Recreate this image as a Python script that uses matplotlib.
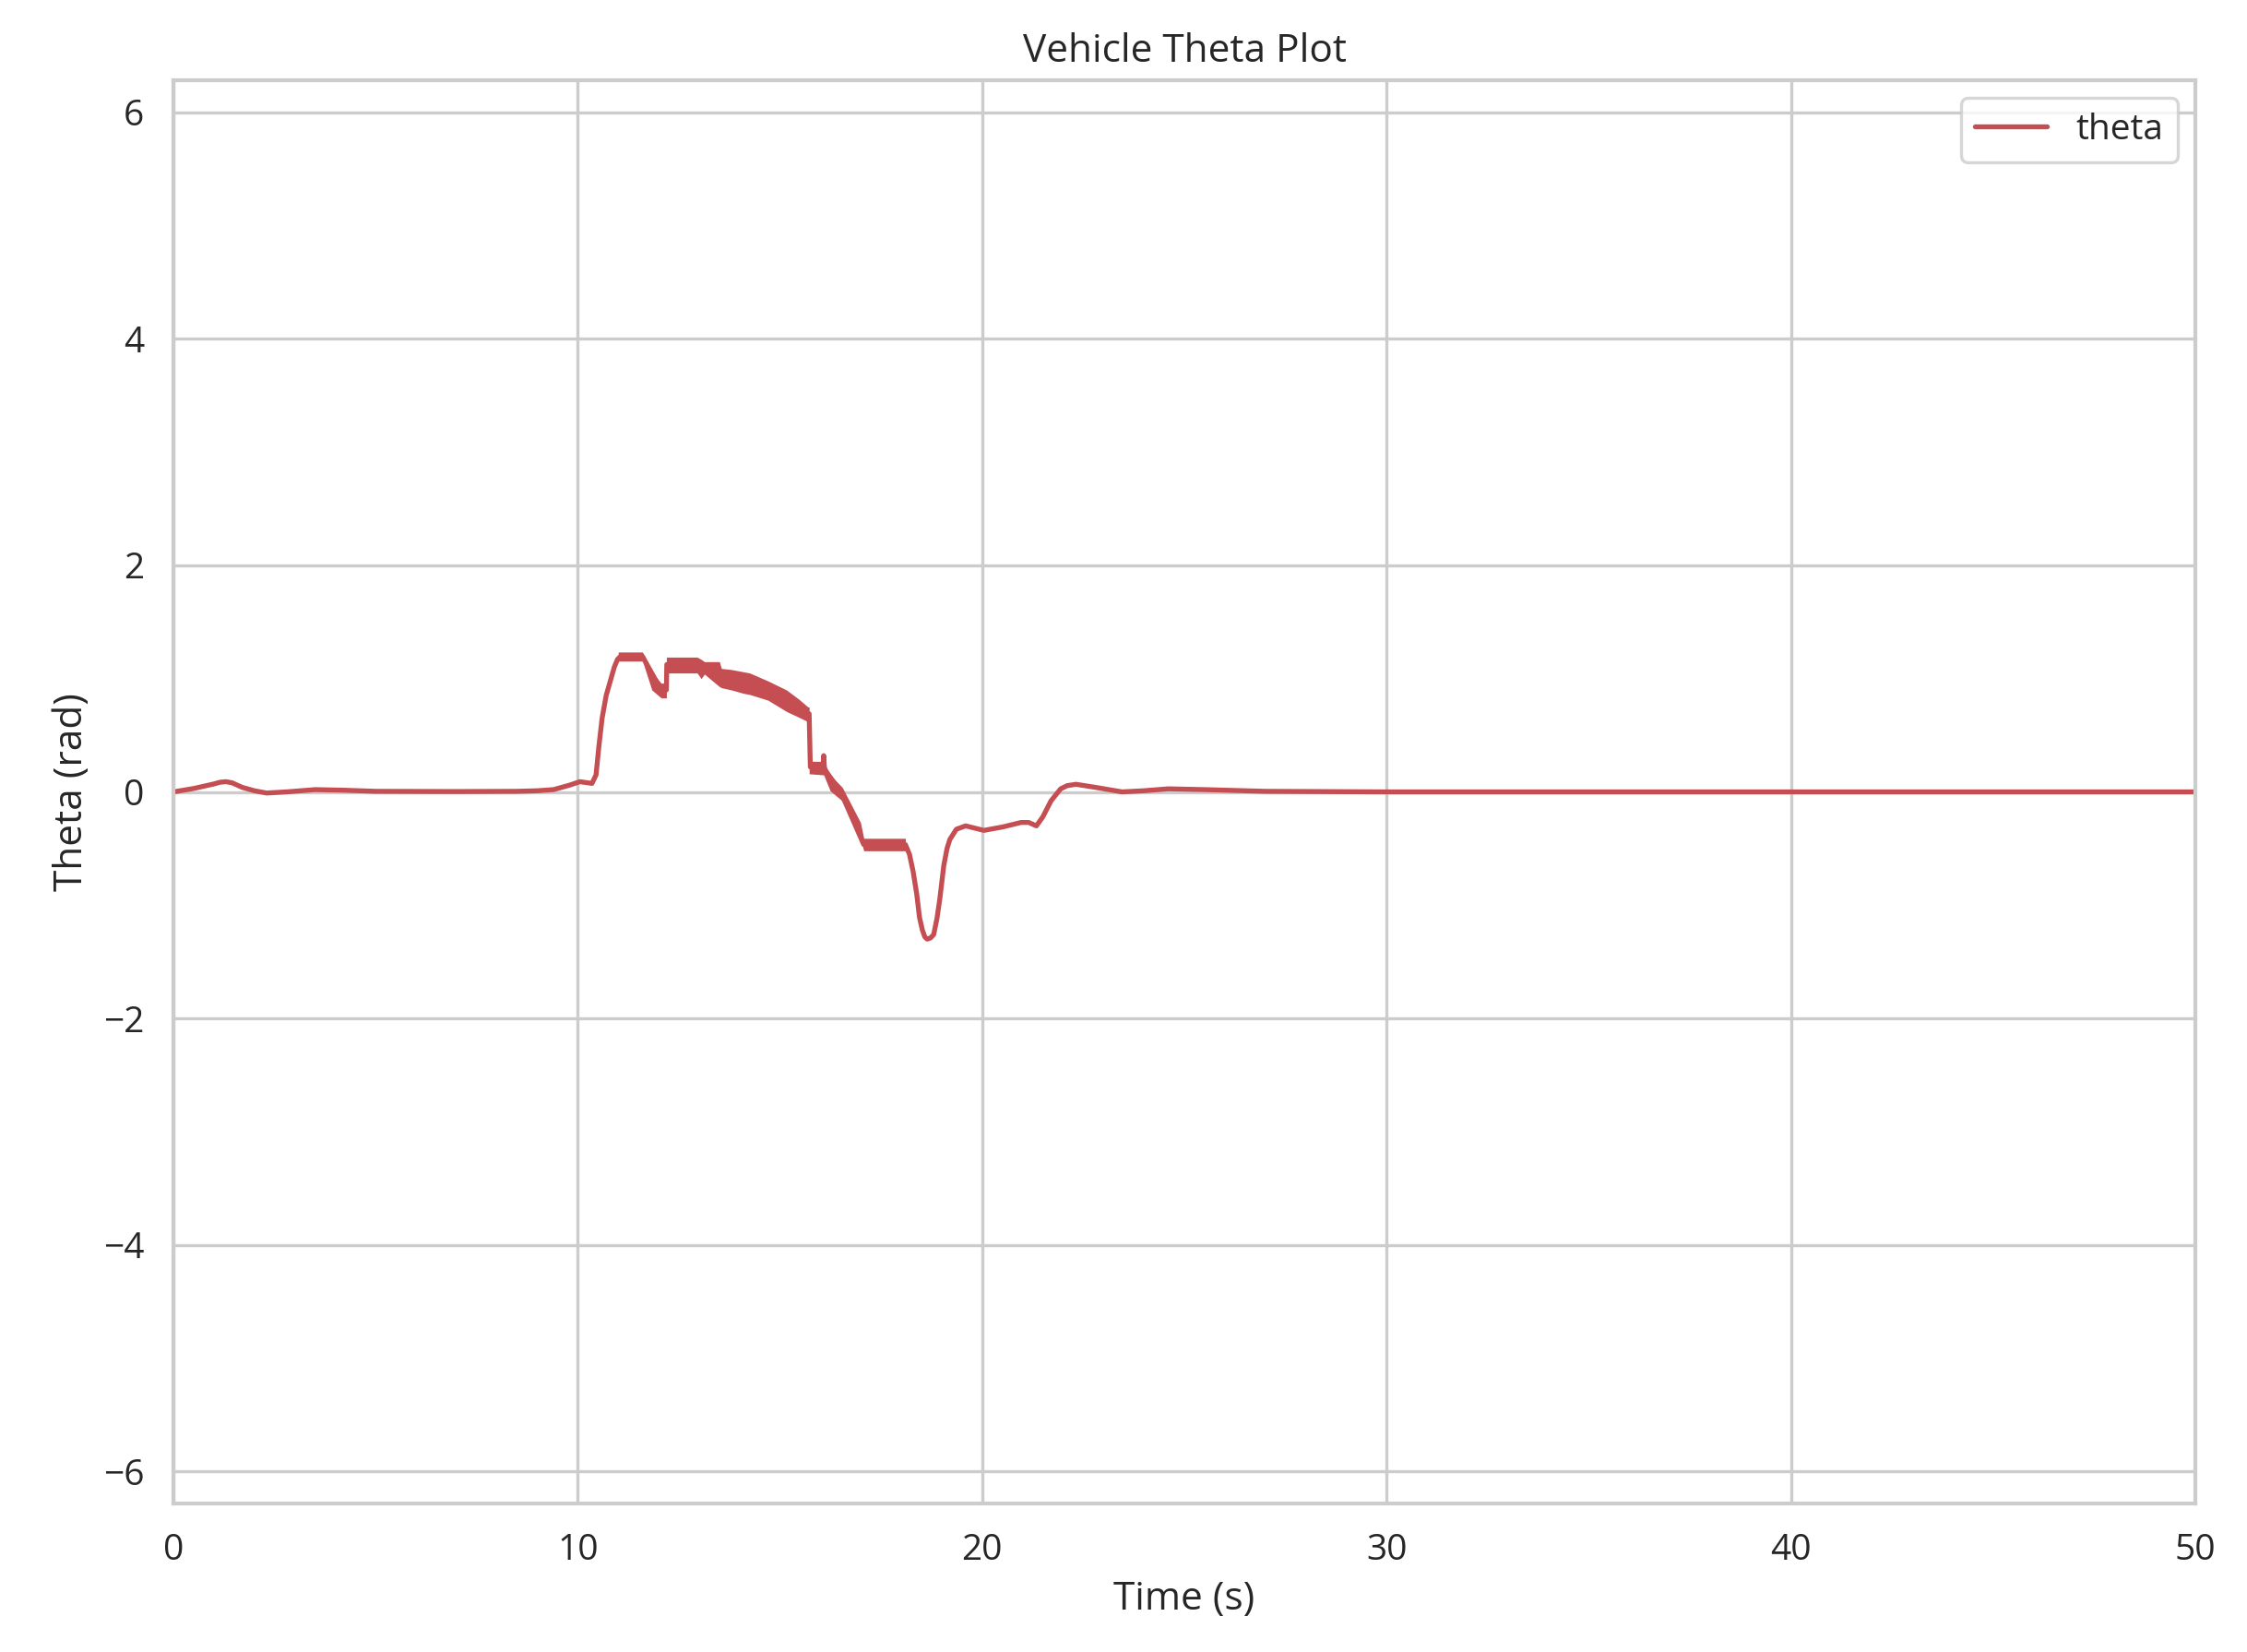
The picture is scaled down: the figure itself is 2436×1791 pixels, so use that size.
import matplotlib
matplotlib.use("Agg")
import matplotlib.pyplot as plt
import numpy as np
import seaborn as sns

# --------------------------------------------------------------------------- #
# Data (time in s, theta in rad).
# --------------------------------------------------------------------------- #
time_s = [
    0, 0.5, 1.0, 1.15, 1.3, 1.45, 1.7, 2.0, 2.3, 2.8,
    3.5, 4.2, 5.0, 7.0, 8.5, 9.0, 9.4, 9.8, 10.05, 10.35,
    10.45, 10.52, 10.6, 10.7, 10.8, 10.9, 10.98, 11.05, 11.6, 12.06,
    12.19, 12.2, 13.0, 14.0, 15.0, 15.69, 15.72, 15.75, 16.06, 16.08,
    16.1, 16.5, 17.07, 18.1, 18.2, 18.29, 18.38, 18.45, 18.52, 18.58,
    18.64, 18.72, 18.8, 18.88, 18.95, 19.05, 19.13, 19.2, 19.36, 19.59,
    20.04, 20.5, 20.96, 21.15, 21.34, 21.5, 21.7, 21.94, 22.1, 22.32,
    22.8, 23.46, 24.0, 24.6, 25.5, 27, 30, 50,
]
theta = [
    0, 0.03, 0.07, 0.085, 0.09, 0.08, 0.04, 0.01, -0.01, 0.0,
    0.02, 0.015, 0.005, 0.003, 0.005, 0.01, 0.02, 0.06, 0.09, 0.075,
    0.15, 0.4, 0.65, 0.85, 0.975, 1.1, 1.17, 1.195, 1.195, 0.9,
    0.9, 1.125, 1.1, 1.0, 0.85, 0.69, 0.69, 0.22, 0.2, 0.32,
    0.2, 0.0, -0.465, -0.465, -0.55, -0.70, -0.9, -1.11, -1.22, -1.28,
    -1.30, -1.29, -1.26, -1.12, -0.95, -0.65, -0.5, -0.42, -0.33, -0.30,
    -0.34, -0.31, -0.27, -0.27, -0.30, -0.22, -0.08, 0.027, 0.055, 0.067,
    0.04, 0.0, 0.01, 0.027, 0.02, 0.005, 0.0, 0.0,
]

# envelope of the high-frequency chatter between ~11 s and ~18 s
chatter_t = [
    11.0, 11.6, 11.83, 12.06, 12.19, 12.19, 12.95, 13.05, 13.13, 13.5, 13.55,
    13.8, 14.1, 14.25, 14.7, 15.16, 15.46, 15.69, 15.72, 15.72, 16.08, 16.24,
    16.54, 16.99, 17.07, 18.1,
]
chatter_hi = [
    1.235, 1.235, 1.06, 0.96, 0.96, 1.19, 1.19, 1.17, 1.15, 1.15, 1.09, 1.08,
    1.06, 1.05, 0.98, 0.90, 0.82, 0.75, 0.75, 0.27, 0.27, 0.15, 0.04, -0.27,
    -0.41, -0.41,
]
chatter_lo = [
    1.155, 1.155, 0.90, 0.83, 0.83, 1.05, 1.05, 1.0, 1.04, 0.93, 0.92, 0.90,
    0.87, 0.86, 0.81, 0.71, 0.66, 0.62, 0.62, 0.16, 0.15, 0.01, -0.08, -0.41,
    -0.52, -0.52,
]

sns.set_theme(style="whitegrid", color_codes=True, font_scale=1.06)
plt.rcParams["font.family"] = ["Open Sans", "DejaVu Sans"]

fig = plt.figure(figsize=(2436 / 240, 1791 / 240), dpi=240)
ax = fig.add_axes([0.0772, 0.0899, 0.8998, 0.8615])

ax.plot(time_s, theta, color="r", linewidth=1.6, label="theta")
ax.fill_between(chatter_t, chatter_lo, chatter_hi, color="r", linewidth=0)

ax.set_xlim(0, 50)
ax.set_ylim(-2 * np.pi, 2 * np.pi)
ax.set_xlabel("Time (s)")
ax.set_ylabel("Theta (rad)")
ax.set_title("Vehicle Theta Plot")
ax.legend(loc="upper right")

fig.savefig("out.png", dpi=240)
